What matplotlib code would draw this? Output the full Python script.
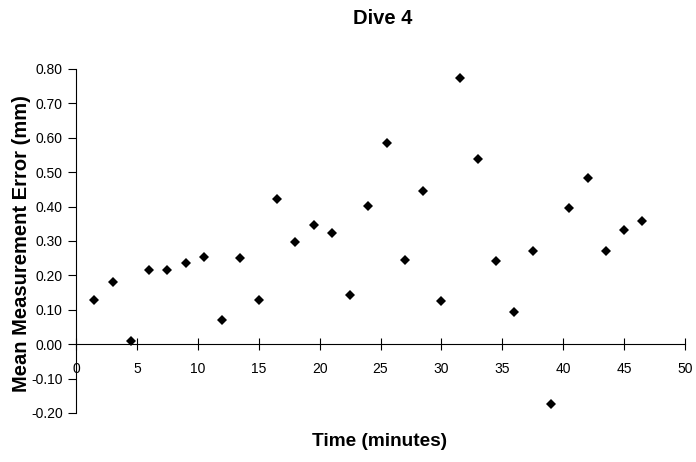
import matplotlib
matplotlib.use("Agg")
import matplotlib.pyplot as plt

plt.rcParams['font.family'] = ['Liberation Sans', 'DejaVu Sans']

time_min = [1.5, 3.0, 4.5, 6.0, 7.5, 9.0, 10.5, 12.0, 13.5, 15.0, 16.5, 18.0,
            19.5, 21.0, 22.5, 24.0, 25.5, 27.0, 28.5, 30.0, 31.5, 33.0, 34.5,
            36.0, 37.5, 39.0, 40.5, 42.0, 43.5, 45.0, 46.5]
error_mm = [0.129, 0.181, 0.010, 0.216, 0.216, 0.235, 0.253, 0.071, 0.252,
            0.129, 0.423, 0.298, 0.347, 0.322, 0.144, 0.403, 0.584, 0.244,
            0.446, 0.126, 0.774, 0.539, 0.243, 0.095, 0.270, -0.173, 0.396,
            0.482, 0.271, 0.331, 0.357]
x_ticks = [0, 5, 10, 15, 20, 25, 30, 35, 40, 45, 50]
y_ticks = [-0.2, -0.1, 0.0, 0.1, 0.2, 0.3, 0.4, 0.5, 0.6, 0.7, 0.8]

fig = plt.figure(figsize=(6.96, 4.62), dpi=100)
ax = fig.add_axes([76/696, 1-413/462, (685-76)/696, (413-69)/462])

ax.plot(time_min, error_mm, linestyle='none', marker='D', markersize=4.8,
        color='black', markeredgewidth=0)

ax.set_xlim(0, 50)
ax.set_ylim(-0.2, 0.8)
ax.set_xticks(x_ticks)
ax.set_yticks(y_ticks)
ax.set_yticklabels([f"{v:.2f}" for v in y_ticks], fontsize=10.5)
ax.set_xticklabels([str(v) for v in x_ticks], fontsize=10.5)

for s in ['top', 'right']:
    ax.spines[s].set_visible(False)
ax.spines['bottom'].set_position(('data', 0))
ax.spines['left'].set_position(('data', 0))
ax.spines['bottom'].set_linewidth(0.8)
ax.spines['left'].set_linewidth(0.8)

ax.tick_params(axis='x', direction='inout', length=8, width=0.8, pad=9)
ax.tick_params(axis='y', direction='out', length=5.5, width=0.8, pad=4)

fig.text(380/696, 1-442/462, 'Time (minutes)', fontsize=13.7, fontweight='bold',
         ha='center', va='center')
fig.text(22/696, 1-244/462, 'Mean Measurement Error (mm)', fontsize=14.5,
         fontweight='bold', ha='center', va='center', rotation=90)
fig.text(383/696, 1-19/462, 'Dive 4', fontsize=14.5, fontweight='bold',
         ha='center', va='center')

fig.savefig('out.png', dpi=100)
